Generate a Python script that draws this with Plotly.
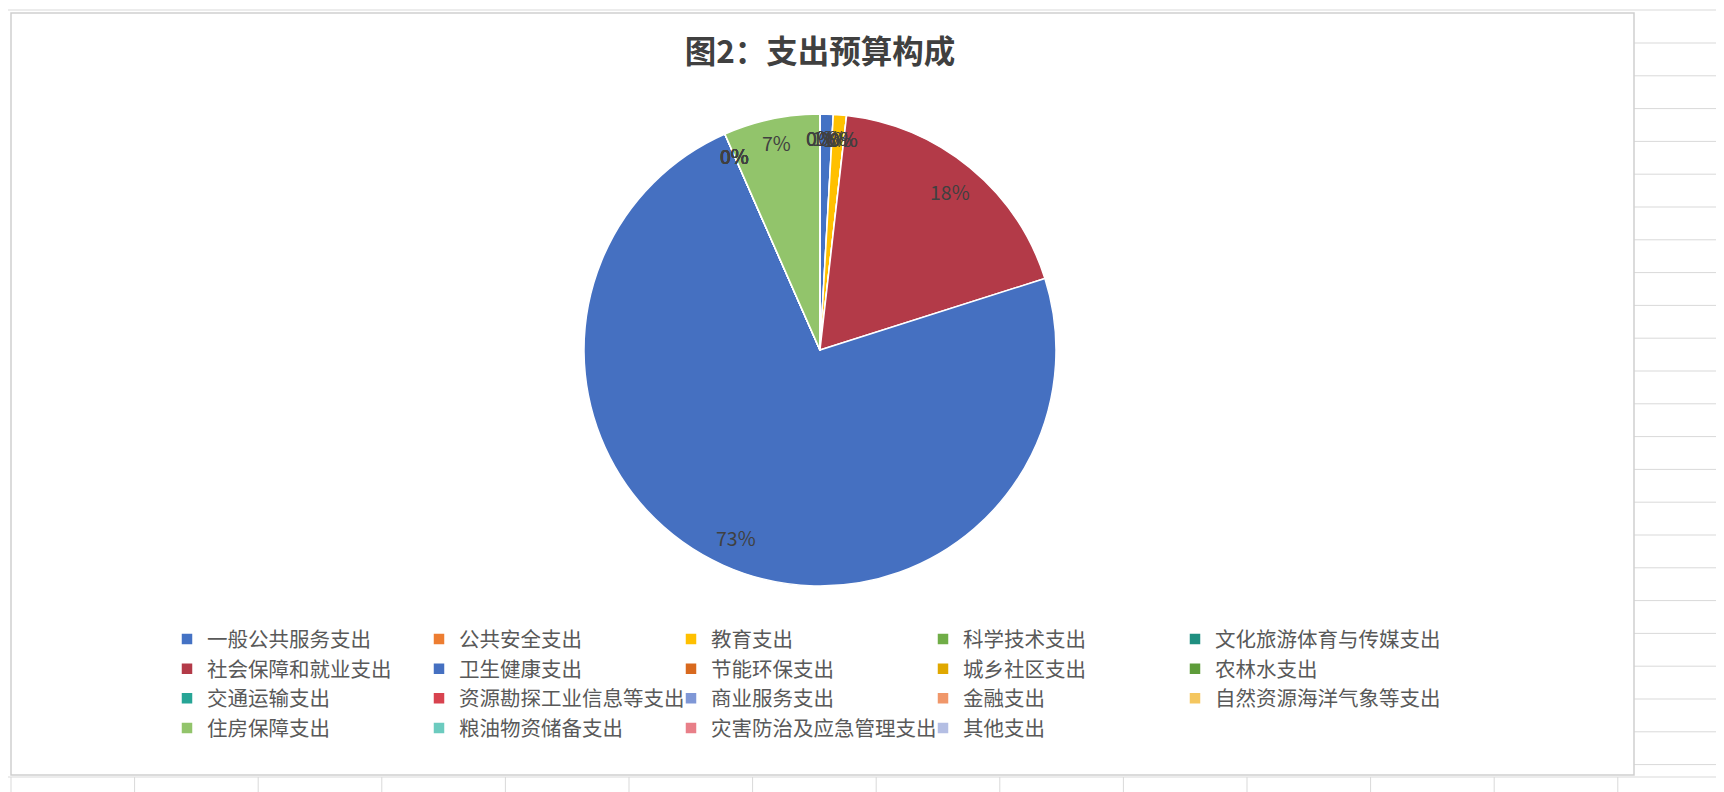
import math
import plotly.graph_objects as go

categories = [
    "一般公共服务支出", "公共安全支出", "教育支出", "科学技术支出", "文化旅游体育与传媒支出",
    "社会保障和就业支出", "卫生健康支出", "节能环保支出", "城乡社区支出", "农林水支出",
    "交通运输支出", "资源勘探工业信息等支出", "商业服务支出", "金融支出", "自然资源海洋气象等支出",
    "住房保障支出", "粮油物资储备支出", "灾害防治及应急管理支出", "其他支出",
]
values = [0.9, 0.0, 0.9, 0.0, 0.0,
          18.3, 73.3, 0.0, 0.0, 0.0,
          0.0, 0.0, 0.0, 0.0, 0.0,
          6.6, 0.0, 0.0, 0.0]
colors = [
    "#4472C4", "#ED7D31", "#FFC000", "#70AD47", "#1F8F80",
    "#B33A48", "#4570C1", "#D8691E", "#E0A800", "#5E9C3A",
    "#27A596", "#D8434F", "#7F97D6", "#F0976A", "#F4C65F",
    "#92C46B", "#6CCBBF", "#E87F88", "#B4BEE3",
]
title_text = "图2：支出预算构成"

# figure geometry (page body has an 8px margin)
OFF = 8
FW, FH = 1716, 784
GSW = 1400                      # plot-area width (limits legend to 5 columns)
def PX(p):
    return (p - OFF) / GSW
def PY(p):
    return 1 - (p - OFF) / FH

CX, CY, R = 820, 350, 236       # pie centre / radius in page px

fig = go.Figure()
fig.add_trace(go.Pie(
    labels=categories,
    values=values,
    sort=False,
    direction="clockwise",
    rotation=0,
    marker=dict(colors=colors, line=dict(color="white", width=1.5)),
    textinfo="none",
    hoverinfo="label+percent",
    domain=dict(x=[PX(CX - 300), PX(CX + 300)], y=[PY(CY + R), PY(CY - R)]),
    showlegend=True,
))

# data labels placed near the outer edge of each slice (Excel style)
total = sum(values)
annotations = []
cum = 0.0
for v in values:
    mid = (cum + v / 2) / total * 2 * math.pi
    cum += v
    rf = 0.87 if v / total > 0.1 else 0.90
    lx = CX + math.sin(mid) * R * rf
    ly = CY - math.cos(mid) * R * rf
    annotations.append(dict(
        x=PX(lx), y=PY(ly), xref="paper", yref="paper",
        text=f"{round(v / total * 100):.0f}%", showarrow=False,
        font=dict(family="Noto Sans CJK SC, Noto Sans", size=19.5, color="#404040"),
        xanchor="center", yanchor="middle",
    ))

shapes = []
grid = "#d9d9d9"
col_x = [11 + 123.6 * i for i in range(14)]
for x in col_x:
    shapes.append(dict(type="line", xref="paper", yref="paper",
                       x0=PX(x), x1=PX(x), y0=PY(800), y1=PY(777),
                       line=dict(color=grid, width=1), layer="below"))
shapes.append(dict(type="line", xref="paper", yref="paper",
                   x0=PX(0), x1=PX(1730), y0=PY(777), y1=PY(777),
                   line=dict(color=grid, width=1), layer="below"))
shapes.append(dict(type="line", xref="paper", yref="paper",
                   x0=PX(0), x1=PX(1730), y0=PY(10), y1=PY(10),
                   line=dict(color=grid, width=1), layer="below"))
y = 43.0
while y < 792:
    shapes.append(dict(type="line", xref="paper", yref="paper",
                       x0=PX(1634), x1=PX(1730), y0=PY(y), y1=PY(y),
                       line=dict(color=grid, width=1), layer="below"))
    y += 32.8
shapes.append(dict(type="rect", xref="paper", yref="paper",
                   x0=PX(11), x1=PX(1634), y0=PY(775), y1=PY(13),
                   fillcolor="white", line=dict(color="#cfcfcf", width=1.5), layer="below"))

# invisible legend title only widens the legend's clip box so the
# long labels in the last column are not cut off
spacer = "0" * 560
fig.update_layout(
    width=FW, height=FH,
    margin=dict(l=0, r=FW - GSW, t=0, b=0),
    paper_bgcolor="white",
    plot_bgcolor="white",
    shapes=shapes,
    annotations=annotations,
    title=dict(text="<b>" + title_text + "</b>", xref="paper", x=PX(820), xanchor="center",
               y=PY(52), yanchor="middle",
               font=dict(family="Noto Sans CJK SC", size=31.5, color="#404040")),
    legend=dict(
        orientation="h",
        x=PX(167), xanchor="left",
        y=PY(614), yanchor="top",
        entrywidth=207, entrywidthmode="pixels",
        font=dict(family="Noto Sans CJK SC", size=20.5, color="#595959"),
        title=dict(text=spacer, side="top",
                   font=dict(family="Liberation Mono", size=4, color="rgba(0,0,0,0)")),
        bgcolor="rgba(0,0,0,0)",
        itemclick=False,
    ),
)

fig.write_html("out.html")
